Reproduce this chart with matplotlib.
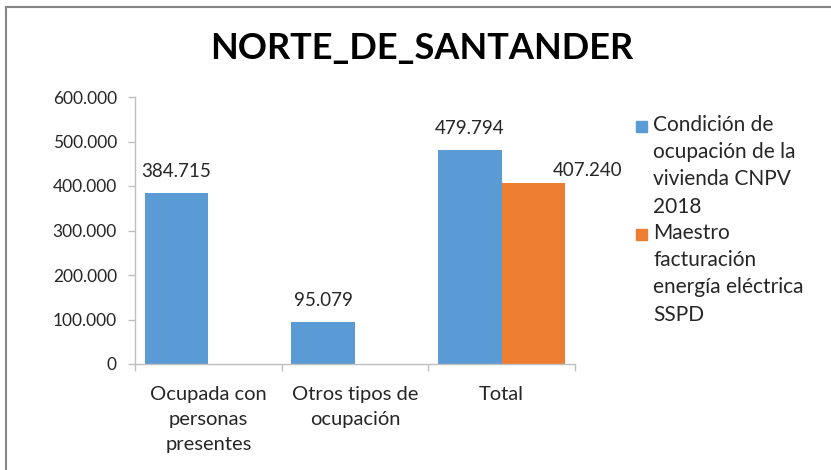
import matplotlib
matplotlib.use("Agg")
import matplotlib.pyplot as plt
from matplotlib.lines import Line2D
from matplotlib.patches import Rectangle
from matplotlib.ticker import FuncFormatter

# ---------------------------------------------------------------------------
# Data
# ---------------------------------------------------------------------------
title = "NORTE_DE_SANTANDER"
categories = ["Ocupada con\npersonas\npresentes", "Otros tipos de\nocupación", "Total"]
cnpv_values = [384715, 95079, 479794]
sspd_values = [None, None, 407240]
series_names = ["Condición de\nocupación de la\nvivienda CNPV\n2018",
                "Maestro\nfacturación\nenergía eléctrica\nSSPD"]
y_ticks = [0, 100000, 200000, 300000, 400000, 500000, 600000]

blue = "#5B9BD5"
orange = "#ED7D31"
text_col = "#262626"
axis_col = "#BFBFBF"

plt.rcParams["font.family"] = ["Lato", "DejaVu Sans"]


def miles(v, pos=None):
    # Spanish style thousands separator
    return f"{int(round(v)):,}".replace(",", ".")


fig = plt.figure(figsize=(8.31, 4.70), dpi=100)
ax = fig.add_axes([135 / 831, 1 - 364 / 470, 440 / 831, 267 / 470])

x = list(range(len(categories)))
w = 0.433

bars1 = ax.bar([i - w / 2 for i in x], cnpv_values, width=w, color=blue,
               label=series_names[0], zorder=2)
sspd_x = [i + w / 2 for i, v in zip(x, sspd_values) if v is not None]
sspd_y = [v for v in sspd_values if v is not None]
bars2 = ax.bar(sspd_x, sspd_y, width=w, color=orange,
               label=series_names[1], zorder=2)

# data labels
for b, v in zip(bars1, cnpv_values):
    ax.annotate(miles(v), (b.get_x() + b.get_width() / 2, v),
                xytext=(0, 15.5), textcoords="offset points",
                ha="center", va="center", fontsize=13.5, color=text_col)
for b, v in zip(bars2, sspd_y):
    ax.annotate(miles(v), (b.get_x() + b.get_width() / 2, v),
                xytext=(39, 9), textcoords="offset points",
                ha="center", va="center", fontsize=13.5, color=text_col)

ax.set_xlim(-0.5, len(categories) - 0.5)
ax.set_ylim(0, 600000)
ax.set_yticks(y_ticks)
ax.yaxis.set_major_formatter(FuncFormatter(miles))

ax.set_xticks(x)
ax.set_xticklabels(categories, linespacing=1.55)
ax.set_xticks([i - 0.5 for i in range(len(categories) + 1)], minor=True)
ax.tick_params(axis="x", which="major", length=0, pad=16,
               labelsize=14.5, labelcolor=text_col)
ax.tick_params(axis="x", which="minor", length=5, width=1, color=axis_col,
               direction="out")
ax.tick_params(axis="y", length=5, width=1, color=axis_col, pad=8,
               labelsize=12.5, labelcolor=text_col)

for s in ["top", "right"]:
    ax.spines[s].set_visible(False)
for s in ["left", "bottom"]:
    ax.spines[s].set_color(axis_col)
    ax.spines[s].set_linewidth(1)

fig.text(422 / 831, 1 - 48 / 470, title, ha="center", va="center",
         fontsize=26, fontweight="bold", color="black")

# legend, drawn by hand so each square sits on the first line of its label
legend_colors = [blue, orange]
legend_tops = [115, 223]          # pixel row of the first text line's top
for name, col, top in zip(series_names, legend_colors, legend_tops):
    fig.patches.append(Rectangle((636 / 831, 1 - (top + 17) / 470),
                                 11 / 831, 11 / 470, color=col,
                                 transform=fig.transFigure, figure=fig))
    fig.text(653 / 831, 1 - top / 470, name, ha="left", va="top",
             fontsize=15, linespacing=1.45, color=text_col)

# outer chart border (left and top edges visible in the reference)
fig.add_artist(Line2D([6 / 831, 6 / 831], [0, 1 - 7 / 470],
                      color="#868686", lw=1.5, transform=fig.transFigure))
fig.add_artist(Line2D([6 / 831, 1], [1 - 7 / 470, 1 - 7 / 470],
                      color="#868686", lw=1.5, transform=fig.transFigure))

fig.savefig("out.png", dpi=100)
